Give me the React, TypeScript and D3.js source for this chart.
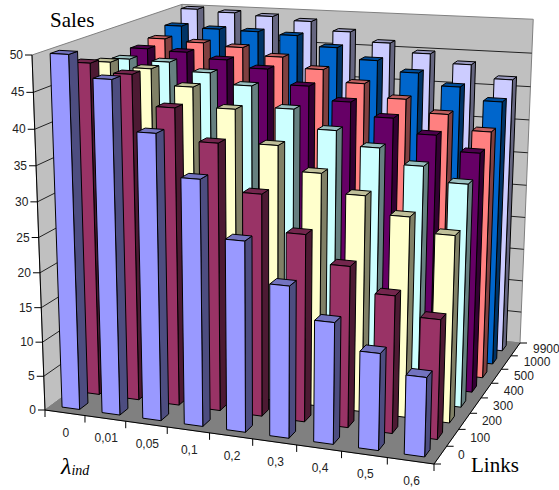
import React from "react";
import * as d3 from "d3";

const categories = ["0", "0,01", "0,05", "0,1", "0,2", "0,3", "0,4", "0,5", "0,6"];
const links = ["0", "100", "200", "300", "400", "500", "1000", "9900"];
const valueTicks = [0, 5, 10, 15, 20, 25, 30, 35, 40, 45, 50];
const colors = ["#9999FF", "#993366", "#FFFFCC", "#CCFFFF", "#660066", "#FF8080", "#0066CC", "#CCCCFF"];

const s0 = [50, 47, 40.2, 34.5, 26.7, 21.2, 16.9, 13.4, 10.9];
const s100 = [47.8, 46.6, 42.4, 38, 31.5, 26.5, 22.7, 19.3, 16.7];
const s200 = [46.9, 46.3, 44.1, 41.4, 36.8, 33.4, 30.8, 28.4, 26.4];
const s300 = [46.3, 46.2, 45, 43.5, 40.6, 38, 36, 33.9, 31.9];
const s400 = [46.8, 46.6, 45.8, 44.8, 42.7, 40.8, 38.9, 36.9, 34.8];
const s500 = [47.3, 47, 46.6, 45.5, 44, 42.3, 40.4, 38.6, 36.5];
const s1000 = [48.3, 48.1, 48, 47.7, 46.2, 44.6, 43.1, 41.4, 39.6];
const s9900 = [50, 49.7, 49.4, 48.9, 47.6, 46.2, 44.9, 43.6, 41.7];
const series = [s0, s100, s200, s300, s400, s500, s1000, s9900];

// image of the plot cube's corners, used to build a perspective projection
type P = [number, number];
const O: P = [45, 410];
const PU: P = [434, 464];
const PV: P = [186, 306];
const PW: P = [32, 55];
const PUV: P = [520, 343];
const PVW: P = [182, 4];

function solveProjection() {
  const a1 = PUV[0] - PU[0], b1 = PUV[0] - PV[0], c1 = PUV[0] - O[0];
  const a2 = PUV[1] - PU[1], b2 = PUV[1] - PV[1], c2 = PUV[1] - O[1];
  const det = a1 * b2 - a2 * b1;
  const A = (c1 * b2 - c2 * b1) / det;
  const B = (a1 * c2 - a2 * c1) / det;
  const C = (PVW[0] - O[0] - B * (PVW[0] - PV[0])) / (PVW[0] - PW[0]);
  return { A, B, C };
}
const { A, B, C } = solveProjection();
const ax: P = [A * PU[0] - O[0], A * PU[1] - O[1]];
const bx: P = [B * PV[0] - O[0], B * PV[1] - O[1]];
const cx: P = [C * PW[0] - O[0], C * PW[1] - O[1]];
function project(u: number, v: number, w: number): P {
  const d = 1 + (A - 1) * u + (B - 1) * v + (C - 1) * w;
  return [
    (O[0] + u * ax[0] + v * bx[0] + w * cx[0]) / d,
    (O[1] + u * ax[1] + v * bx[1] + w * cx[1]) / d,
  ];
}

const uScale = d3.scaleBand<string>().domain(categories).range([0, 1]).paddingInner(0.56).paddingOuter(0.28);
const vScale = d3.scaleBand<string>().domain(links).range([0, 1]).paddingInner(0.58).paddingOuter(0.29);
const wScale = d3.scaleLinear().domain([0, 50]).range([0, 1]);
const uStep = uScale.step();
const vStep = vScale.step();

const poly = (pts: P[]) => (d3.line()(pts) as string) + "Z";
const shade = (c: string, k: number) => {
  const r = d3.rgb(c);
  return d3.rgb(r.r * k, r.g * k, r.b * k).formatHex();
};

const labelFont = "'Liberation Sans', Arial, sans-serif";
const titleFont = "'Liberation Serif', 'Times New Roman', serif";
const axisInk = "#222";

export default function App() {
  const bars: React.ReactNode[] = [];
  for (let j = links.length - 1; j >= 0; j--) {
    const v0 = vScale(links[j])!;
    const v1 = v0 + vScale.bandwidth();
    categories.forEach((cat, i) => {
      const u0 = uScale(cat)!;
      const u1 = u0 + uScale.bandwidth();
      const w = wScale(series[j][i]);
      const col = colors[j];
      const common = { stroke: "#000", strokeWidth: 1, strokeLinejoin: "round" as const };
      bars.push(
        <g key={`${j}-${i}`}>
          <path d={poly([project(u1, v0, 0), project(u1, v1, 0), project(u1, v1, w), project(u1, v0, w)])} fill={shade(col, 0.5)} {...common} />
          <path d={poly([project(u0, v0, w), project(u1, v0, w), project(u1, v1, w), project(u0, v1, w)])} fill={shade(col, 0.75)} {...common} />
          <path d={poly([project(u0, v0, 0), project(u1, v0, 0), project(u1, v0, w), project(u0, v0, w)])} fill={col} {...common} />
        </g>
      );
    });
  }

  const tickLine = (a: P, b: P, k: string) => (
    <line key={k} x1={a[0]} y1={a[1]} x2={b[0]} y2={b[1]} stroke="#000" strokeWidth={1} />
  );

  return (
    <svg width={559} height={490} style={{ position: "absolute", left: 0, top: 0, background: "#fff" }}>
      {/* walls and floor */}
      <path d={poly([project(0, 0, 0), project(0, 1, 0), project(0, 1, 1), project(0, 0, 1)])} fill="#C0C0C0" stroke="#808080" />
      <path d={poly([project(0, 1, 0), project(1, 1, 0), project(1, 1, 1), project(0, 1, 1)])} fill="#C0C0C0" stroke="#808080" />
      <path d={poly([project(0, 0, 0), project(1, 0, 0), project(1, 1, 0), project(0, 1, 0)])} fill="#808080" stroke="#808080" />
      {valueTicks.slice(1, -1).map((t) => {
        const w = wScale(t);
        return (
          <path
            key={t}
            d={d3.line()([project(0, 0, w), project(0, 1, w), project(1, 1, w)]) as string}
            fill="none"
            stroke="#222"
            strokeWidth={1}
          />
        );
      })}
      {bars}
      {/* axes */}
      {tickLine(project(0, 0, 0), project(0, 0, 1), "zaxis")}
      {tickLine(project(0, 0, 0), project(1, 0, 0), "xaxis")}
      {tickLine(project(1, 0, 0), project(1, 1, 0), "yaxis")}
      {valueTicks.map((t) => {
        const p = project(0, 0, wScale(t));
        return (
          <g key={t}>
            {tickLine(p, [p[0] - 7, p[1]], `zt${t}`)}
            <text x={p[0] - 9} y={p[1] + 4} textAnchor="end" fontFamily={labelFont} fontSize={12} fill={axisInk}>{t}</text>
          </g>
        );
      })}
      {d3.range(categories.length + 1).map((i) => {
        const p = project(i * uStep, 0, 0);
        return tickLine(p, [p[0], p[1] + 7], `xt${i}`);
      })}
      {categories.map((c, i) => {
        const p = project((i + 0.5) * uStep, 0, 0);
        return (
          <text key={c} x={p[0] + 1} y={p[1] + 24} textAnchor="middle" fontFamily={labelFont} fontSize={12} fill={axisInk}>{c}</text>
        );
      })}
      {d3.range(links.length + 1).map((j) => {
        const p = project(1, j * vStep, 0);
        return tickLine(p, [p[0] + 7, p[1]], `yt${j}`);
      })}
      {links.map((l, j) => {
        const p = project(1, (j + 0.5) * vStep, 0);
        return (
          <text key={l} x={p[0] + 17.5} y={p[1] + 4} textAnchor="start" fontFamily={labelFont} fontSize={12} fill={axisInk}>{l}</text>
        );
      })}
      {/* titles */}
      <text x={50} y={27} fontFamily={titleFont} fontSize={21} fill="#000">Sales</text>
      <text x={471} y={472} fontFamily={titleFont} fontSize={21} fill="#000">Links</text>
      <text x={61} y={474} fontFamily={titleFont} fontSize={24} fontStyle="italic" fill="#000">
        λ<tspan fontSize={14} dy={1}>ind</tspan>
      </text>
    </svg>
  );
}
